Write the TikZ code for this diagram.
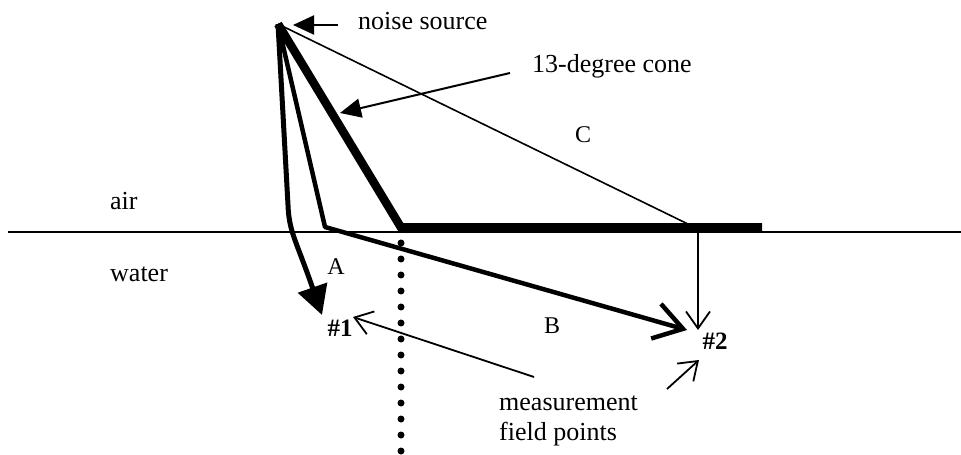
\documentclass[tikz,border=0pt]{standalone}
\usepackage{fontspec}
\setmainfont{Liberation Serif}
\usetikzlibrary{arrows.meta}
\begin{document}
\begin{tikzpicture}[x=1bp,y=-1bp,
  lbl/.style={inner sep=0pt,anchor=base west,font=\fontsize{26bp}{30bp}\selectfont},
  letter/.style={inner sep=0pt,anchor=base,font=\fontsize{24bp}{28bp}\selectfont},
  ptlabel/.style={inner sep=0pt,anchor=base,font=\fontsize{25bp}{28bp}\selectfont\bfseries},
  pointer/.style={line width=2bp,-{Triangle[length=21bp,width=19bp]}},
  barb/.style={line width=1.8bp,-{Straight Barb[length=17bp,width=24bp]}},
]
\useasboundingbox (0,0) rectangle (961,455);
% coordinates
\coordinate (src) at (278,24);
\coordinate (wl) at (8,232);
\coordinate (wr) at (961,232);
\coordinate (coneA) at (401,227.5);
\coordinate (coneB) at (762,227.5);
\coordinate (cHit) at (692,226);
\coordinate (vTop) at (698,232);
\coordinate (vTip) at (698,330);
\coordinate (bend) at (325,227);
\coordinate (bTip) at (687,330);
\coordinate (aKnee) at (288,205);
\coordinate (aTip) at (322,315);
\coordinate (dotTop) at (401,243);
\coordinate (dotBot) at (401,455);
% water line
\draw[line width=2bp] (wl) -- (wr);
% cone
\draw[line width=8.5bp,line join=miter] (src) -- (coneA) -- (coneB);
% ray C
\draw[line width=1.6bp] (src) -- (cHit);
\draw[barb] (vTop) -- (vTip);
% ray B
\draw[line width=4.5bp,line join=round,-{Straight Barb[length=28bp,width=36bp]}] (src) -- (bend) -- (bTip);
% ray A
\draw[line width=5bp,line join=round,-{Triangle[length=29bp,width=30bp]}] (src) -- (aKnee) .. controls (289,232) and (296,240) .. (aTip);
% dotted vertical
\draw[line width=7bp,line cap=round,dash pattern=on 0bp off 16bp] (dotTop) -- (dotBot);
% texts
\node[lbl] (ns) at (358,30) {noise source};
\node[lbl] (cone) at (532,73) {13-degree cone};
\node[lbl] (air) at (110,210) {air};
\node[lbl] (water) at (110,282) {water};
\node[letter] (A) at (336,275) {A};
\node[letter] (B) at (552,334) {B};
\node[letter] (C) at (583,143) {C};
\node[ptlabel] (p1) at (340,337) {\#1};
\node[ptlabel] (p2) at (715,350) {\#2};
\node[lbl] (meas) at (499,410) {measurement};
\node[lbl] (field) at (499,440) {field points};
% pointers
\coordinate (nsTail) at (338,25);
\coordinate (nsTip) at (293,25);
\draw[pointer] (nsTail) -- (nsTip);
\coordinate (coneTail) at (510,73);
\coordinate (coneTip) at (340,113);
\draw[pointer] (coneTail) -- (coneTip);
\coordinate (m1Tail) at (534,377);
\coordinate (m1Tip) at (353,317);
\draw[barb] (m1Tail) -- (m1Tip);
\coordinate (m2Tail) at (667,389);
\coordinate (m2Tip) at (699,360);
\draw[barb] (m2Tail) -- (m2Tip);
\end{tikzpicture}
\end{document}
